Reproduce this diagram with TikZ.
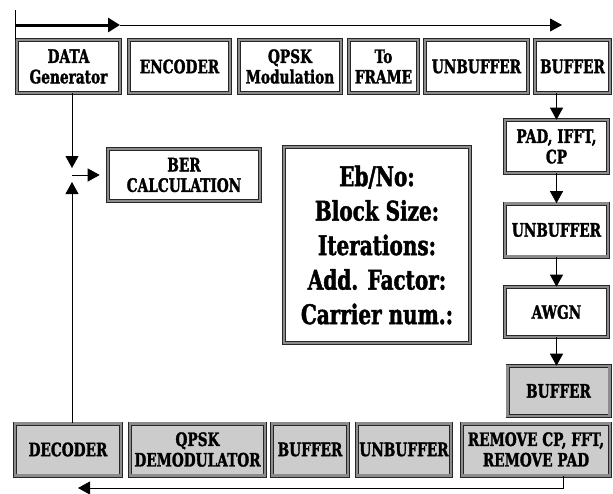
\documentclass[tikz,border=0pt]{standalone}
\usepackage{fontspec}
\newfontfamily\dfont{DejaVu Serif Bold}[FakeStretch=0.74, FakeBold=1.6]
\usetikzlibrary{arrows.meta,shadows}
\begin{document}
\begin{tikzpicture}[x=1pt,y=-1pt,
  box/.style={draw=black!85, double=black!45, double distance=2.8pt, line width=0.6pt,
    inner sep=1pt, align=center, font=\dfont\fontsize{18.5}{20.5}\selectfont,
    drop shadow={shadow xshift=1.5pt, shadow yshift=-1.5pt, fill=black!70, opacity=1}},
  wbox/.style={box, fill=white},
  gbox/.style={box, fill=black!20},
  arr/.style={-{Triangle[length=12pt,width=13pt]}, line width=0.8pt},
]
\useasboundingbox (0,0) rectangle (613,493);
% top row
\node[wbox, minimum width=103pt, minimum height=53pt] (dg) at (68.5,66.5) {DATA\\Generator};
\node[wbox, minimum width=101pt, minimum height=53pt] (enc) at (179.5,66.5) {ENCODER};
\node[wbox, minimum width=102pt, minimum height=53pt] (qmod) at (290,66.5) {QPSK\\Modulation};
\node[wbox, minimum width=69pt, minimum height=53pt] (tof) at (383.5,66.5) {To\\FRAME};
\node[wbox, minimum width=103pt, minimum height=53pt] (unb1) at (476.5,66.5) {UNBUFFER};
\node[wbox, minimum width=75pt, minimum height=53pt] (buf1) at (572.5,66.5) {BUFFER};
% right column
\node[wbox, minimum width=103pt, minimum height=53pt] (pad) at (556.5,146.5) {PAD, IFFT,\\CP};
\node[wbox, minimum width=103pt, minimum height=53pt] (unb2) at (556.5,230) {UNBUFFER};
\node[wbox, minimum width=103pt, minimum height=50pt] (awgn) at (556.5,312) {AWGN};
\node[gbox, minimum width=102pt, minimum height=50pt] (buf2) at (558.5,391) {BUFFER};
% bottom row
\node[gbox, minimum width=106pt, minimum height=52pt] (dec) at (68,449.5) {DECODER};
\node[gbox, minimum width=135pt, minimum height=52pt] (qdem) at (197.5,449.5) {QPSK\\DEMODULATOR};
\node[gbox, minimum width=76pt, minimum height=52pt] (buf3) at (310,449.5) {BUFFER};
\node[gbox, minimum width=94pt, minimum height=52pt] (unb3) at (404,449.5) {UNBUFFER};
\node[gbox, minimum width=148pt, minimum height=52pt] (rem) at (536,449.5) {REMOVE CP, FFT,\\REMOVE PAD};
% middle
\node[wbox, minimum width=152pt, minimum height=52pt] (ber) at (184,175) {BER\\CALCULATION};
\node[wbox, minimum width=186pt, minimum height=196pt, font=\dfont\fontsize{27}{34.5}\selectfont] (par) at (377,245)
  {Eb/No:\\Block Size:\\Iterations:\\Add. Factor:\\Carrier num.:};
% top flow arrow
\coordinate (t0) at (15,10);
\coordinate (t1) at (15,25);
\coordinate (t2) at (120,25);
\coordinate (t3) at (562,25);
\draw[line width=0.8pt] (t0) -- (t0 |- dg.north);
\draw[line width=3pt, -{Triangle[length=12pt,width=14pt]}] (t1) -- (t2);
\draw[arr] (t2) -- (t3);
% left feedback
\coordinate (j) at (72,175);
\coordinate (jd) at (72,168);
\coordinate (ju) at (72,182);
\draw[arr] (j |- dg.south) -- (jd);
\draw[arr] (j |- dec.north) -- (ju);
\draw[arr, shorten >=8pt] (j) -- (ber.west);
% right column arrows
\draw[arr] (pad.north |- buf1.south) -- (pad.north);
\draw[arr] (pad.south) -- (unb2.north);
\draw[arr] (unb2.south) -- (awgn.north);
\draw[arr] (awgn.south) -- (awgn.south |- buf2.north);
% bottom return arrow
\coordinate (b1) at (563,488);
\coordinate (b2) at (78,488);
\draw[arr] (b1 |- rem.south) -- (b1) -- (b2);
\end{tikzpicture}
\end{document}
